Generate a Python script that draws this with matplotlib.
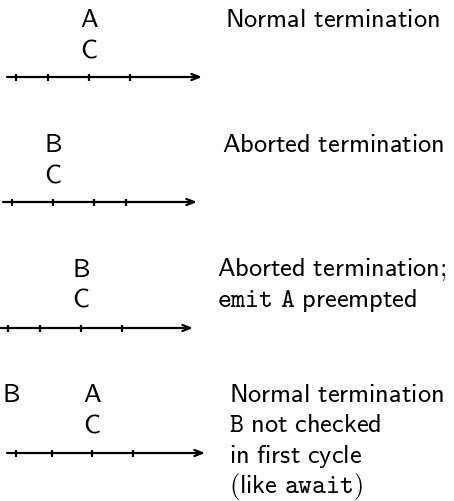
import matplotlib
matplotlib.use("Agg")
import matplotlib.pyplot as plt

plt.rcParams['mathtext.fontset'] = 'cm'
plt.rcParams['font.family'] = ['cmss10', 'DejaVu Sans']

# --- data (diagram coordinates in figure pixels, y grows downward) ---
line_y = [77, 202, 328, 453]
line_x0 = [7, 3, 0, 7]
line_x1 = [202, 197, 193, 205]
tick_x = [[16, 48, 89, 130],
          [12, 53, 94, 126],
          [8, 40, 81, 122],
          [16, 52, 92, 133]]

signal_labels = [["A", "C"], ["B", "C"], ["B", "C"], ["B", "A", "C"]]
signal_x = [[89, 89], [53, 53], [81, 81], [11, 92, 92]]
signal_y = [[27, 58], [152, 184], [277, 308], [402, 402, 434]]

desc_lines = [
    [r"$\mathsf{Normal\ termination}$"],
    [r"$\mathsf{Aborted\ termination}$"],
    [r"$\mathsf{Aborted\ termination;}$",
     r"$\mathtt{emit\ A}\ \mathsf{preempted}$"],
    [r"$\mathsf{Normal\ termination}$",
     r"$\mathtt{B}\ \mathsf{not\ checked}$",
     r"$\mathsf{in\ first\ cycle}$",
     r"$\mathsf{(like}\ \mathtt{await}\mathsf{)}$"],
]
desc_x = [225, 222, 217, 229]
desc_y = [[27], [152], [276, 307], [402, 432.5, 463, 493]]

W, H = 454, 501
fig = plt.figure(figsize=(W / 100, H / 100), dpi=100)
ax = fig.add_axes([0, 0, 1, 1])
ax.set_xlim(0, W)
ax.set_ylim(H, 0)
ax.axis('off')

FS = 19
for i in range(4):
    y = line_y[i]
    ax.annotate("", xy=(line_x1[i], y), xytext=(line_x0[i], y),
                arrowprops=dict(arrowstyle='->,head_length=0.55,head_width=0.22',
                                lw=1.6, color='black', shrinkA=0, shrinkB=0))
    ax.vlines(tick_x[i], y - 3.5, y + 3.5, color='black', lw=1.6)
    for lab, x, yy in zip(signal_labels[i], signal_x[i], signal_y[i]):
        ax.text(x, yy, lab, ha='center', va='baseline', fontsize=FS)
    for txt, yy in zip(desc_lines[i], desc_y[i]):
        ax.text(desc_x[i], yy, txt, ha='left', va='baseline', fontsize=FS)

fig.savefig("out.png", dpi=100)
